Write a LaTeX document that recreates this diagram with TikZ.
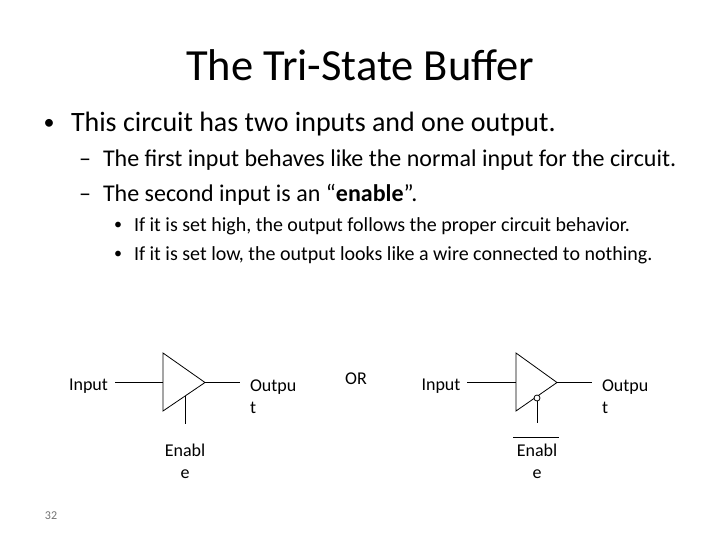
\documentclass[tikz,border=0pt]{standalone}
\usepackage{fontspec}
\setmainfont{Carlito}
\usetikzlibrary{calc}
\tikzset{
  txt/.style={anchor=base west,inner sep=0pt,outer sep=0pt,text=black},
  ctr/.style={anchor=base,inner sep=0pt,outer sep=0pt,text=black},
  wire/.style={draw=black,line width=0.8pt},
  lab/.style={ctr,font=\fontsize{18}{21}\selectfont},
  labw/.style={txt,font=\fontsize{18}{21}\selectfont}
}
\begin{document}
\begin{tikzpicture}[x=1pt,y=-1pt]
\useasboundingbox[fill=white] (0,0) rectangle (720,540);
\node[ctr,font=\fontsize{44.5}{54}\selectfont] (title) at (360,81) {The Tri-State Buffer};
\node[txt,font=\fontsize{22}{26}\selectfont] (b1) at (43.5,130) {•};
\node[txt,font=\fontsize{28}{34}\selectfont] (t1) at (71,131.5) {This circuit has two inputs and one output.};
\node[txt,font=\fontsize{24}{29}\selectfont] (d1) at (79,167) {–};
\node[txt,font=\fontsize{24}{29}\selectfont] (t2) at (103,167) {The first input behaves like the normal input for the circuit.};
\node[txt,font=\fontsize{24}{29}\selectfont] (d2) at (79,202) {–};
\node[txt,font=\fontsize{24}{29}\selectfont] (t3) at (103,202) {The second input is an “\textbf{enable}”.};
\node[txt,font=\fontsize{16}{19}\selectfont] (b2) at (114,229.5) {•};
\node[txt,font=\fontsize{20}{24}\selectfont] (t4) at (134,232) {If it is set high, the output follows the proper circuit behavior.};
\node[txt,font=\fontsize{16}{19}\selectfont] (b3) at (114,258.5) {•};
\node[txt,font=\fontsize{20}{24}\selectfont] (t5) at (134,260.5) {If it is set low, the output looks like a wire connected to nothing.};
% left buffer
\coordinate (la) at (163,353);
\coordinate (lb) at (163,411);
\coordinate (lc) at (205,382.5);
\draw[wire] (la) -- (lc) -- (lb) -- cycle;
\coordinate (lin) at (115,382.5);
\coordinate (lil) at (163,382.5);
\coordinate (lout) at (240,382.5);
\coordinate (len) at (185,396);
\coordinate (lene) at (185,424);
\draw[wire] (lin) -- (lil);
\draw[wire] (lc) -- (lout);
\draw[wire] (len) -- (lene);
\node[lab] (linput) at (88.5,390) {Input};
\node[labw] (lo1) at (250,391) {Outpu};
\node[labw] (lo2) at (250,413) {t};
\node[lab] (le1) at (185,456) {Enabl};
\node[lab] (le2) at (185,478) {e};
\node[lab] (or) at (356,384) {OR};
% right buffer
\coordinate (ra) at (516,353);
\coordinate (rb) at (516,411);
\coordinate (rc) at (557,382.5);
\draw[wire] (ra) -- (rc) -- (rb) -- cycle;
\coordinate (rin) at (467,382.5);
\coordinate (ril) at (516,382.5);
\coordinate (rout) at (592,382.5);
\coordinate (rene) at (537,423);
\draw[wire] (rin) -- (ril);
\draw[wire] (rc) -- (rout);
\node[circle,draw=black,line width=0.8pt,minimum size=6pt,inner sep=0pt,fill=white] (bub) at (537,398) {};
\draw[wire] (bub) -- (rene);
\node[lab] (rinput) at (441,390) {Input};
\node[labw] (ro1) at (602,391) {Outpu};
\node[labw] (ro2) at (602,413) {t};
\coordinate (bar1) at (513,437);
\coordinate (bar2) at (559,437);
\draw[wire] (bar1) -- (bar2);
\node[lab] (re1) at (537,456) {Enabl};
\node[lab] (re2) at (537,478) {e};
\node[anchor=base,inner sep=0pt,text=black!55,font=\fontsize{12}{14}\selectfont] (num) at (51,519) {32};
\end{tikzpicture}
\end{document}
